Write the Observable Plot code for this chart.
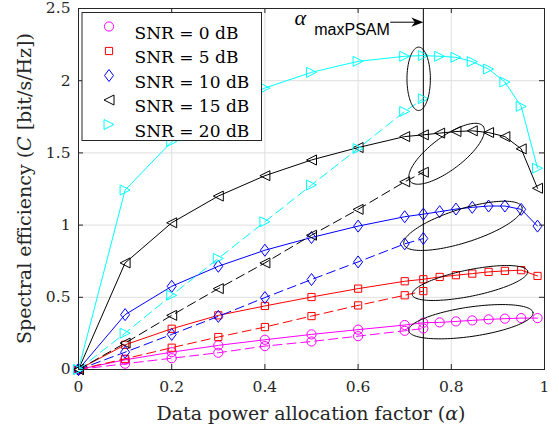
<!DOCTYPE html>
<html><head><meta charset="utf-8">
<script src="https://cdn.jsdelivr.net/npm/d3@7"></script>
<script src="https://cdn.jsdelivr.net/npm/@observablehq/plot@0.6"></script>
<style>body{margin:0;background:#fff}</style>
</head><body><div id="chart"></div>
<script>
// ---- data ----
const xLeft = [0, 0.1, 0.2, 0.3, 0.4, 0.5, 0.6, 0.7, 0.74];
const xRight = [0.775, 0.81, 0.845, 0.88, 0.915, 0.95, 0.985];
const snrLabels = ["SNR = 0 dB", "SNR = 5 dB", "SNR = 10 dB", "SNR = 15 dB", "SNR = 20 dB"];
const colors = ["#ff00ff", "#ff0000", "#0000ff", "#000000", "#00ffff"];
const solid0 = [0, 0.067, 0.12, 0.167, 0.206, 0.243, 0.276, 0.308, 0.324, 0.326, 0.333, 0.34, 0.347, 0.352, 0.356, 0.356];
const dashed0 = [0, 0.04, 0.078, 0.116, 0.162, 0.194, 0.231, 0.268, 0.284];
const solid5 = [0, 0.171, 0.282, 0.375, 0.44, 0.502, 0.56, 0.611, 0.625, 0.641, 0.653, 0.664, 0.676, 0.683, 0.688, 0.648];
const dashed5 = [0, 0.074, 0.151, 0.225, 0.294, 0.37, 0.444, 0.514, 0.543];
const solid10 = [0, 0.38, 0.576, 0.715, 0.826, 0.914, 0.993, 1.058, 1.076, 1.093, 1.111, 1.123, 1.132, 1.132, 1.109, 0.993];
const dashed10 = [0, 0.12, 0.243, 0.368, 0.498, 0.623, 0.745, 0.87, 0.907];
const solid15 = [0, 0.738, 1.016, 1.201, 1.342, 1.451, 1.537, 1.613, 1.625, 1.637, 1.648, 1.653, 1.641, 1.613, 1.528, 1.255];
const dashed15 = [0, 0.183, 0.375, 0.56, 0.738, 0.93, 1.109, 1.3, 1.366];
const solid20 = [0, 1.243, 1.578, 1.8, 1.949, 2.058, 2.134, 2.169, 2.174, 2.169, 2.162, 2.132, 2.081, 1.991, 1.822, 1.394];
const dashed20 = [0, 0.252, 0.514, 0.769, 1.023, 1.278, 1.53, 1.787, 1.875];
const xTicks = [0, 0.2, 0.4, 0.6, 0.8, 1];
const yTicks = [0, 0.5, 1, 1.5, 2, 2.5];
const alphaMax = 0.74;
const alphaLabel = {x: 0.477, y: 2.382, sub: "maxPSAM", subX: 0.506, subY: 2.318, arrowX1: 0.67, arrowY: 2.405};
// annotation ellipses: centre in data units, semi-axes in px, tilt in degrees
const ellipses = [
  {cx: 0.730, cy: 2.013, a: 11.7, b: 31.7, angle: 0},
  {cx: 0.790, cy: 1.494, a: 45.7, b: 16.4, angle: 37},
  {cx: 0.825, cy: 0.995, a: 61.9, b: 16.8, angle: 17.6},
  {cx: 0.840, cy: 0.599, a: 58.9, b: 13.2, angle: 11.5},
  {cx: 0.842, cy: 0.331, a: 62.8, b: 14.7, angle: 8.3}
];

// ---- layout ----
const W = 559, H = 431, mL = 78, mR = 15, mT = 8, mB = 62;
const kx = (W - mL - mR) / 1, ky = (H - mT - mB) / 2.5;
const serif = "DejaVu Serif";

const solids = [solid0, solid5, solid10, solid15, solid20];
const dasheds = [dashed0, dashed5, dashed10, dashed15, dashed20];
const xSolid = xLeft.concat(xRight);

// custom marker symbols
function sym(fn) { return {draw(c, size) { const k = Math.sqrt(size / Math.PI) / 4.5; fn(c, k); }}; }
const symbols = [
  sym((c, k) => { c.moveTo(4.6 * k, 0); c.arc(0, 0, 4.6 * k, 0, 2 * Math.PI); c.closePath(); }),
  sym((c, k) => { c.moveTo(-3.6 * k, -3.6 * k); c.lineTo(3.6 * k, -3.6 * k); c.lineTo(3.6 * k, 3.6 * k); c.lineTo(-3.6 * k, 3.6 * k); c.closePath(); }),
  sym((c, k) => { c.moveTo(0, -6 * k); c.lineTo(4.5 * k, 0); c.lineTo(0, 6 * k); c.lineTo(-4.5 * k, 0); c.closePath(); }),
  sym((c, k) => { c.moveTo(-5 * k, 0); c.lineTo(5 * k, -5 * k); c.lineTo(5 * k, 5 * k); c.closePath(); }),
  sym((c, k) => { c.moveTo(5 * k, 0); c.lineTo(-5 * k, -5 * k); c.lineTo(-5 * k, 5 * k); c.closePath(); })
];
const arrowHead = {draw(c) { c.moveTo(0, 0); c.lineTo(-12, -4.6); c.lineTo(-8.5, 0); c.lineTo(-12, 4.6); c.closePath(); }};

const marks = [
  Plot.gridX(xTicks, {stroke: "#dfdfdf", strokeOpacity: 1, strokeWidth: 1}),
  Plot.gridY(yTicks, {stroke: "#dfdfdf", strokeOpacity: 1, strokeWidth: 1}),
  Plot.ruleX([alphaMax], {stroke: "black", strokeWidth: 1})
];
solids.forEach((vals, i) => {
  const rows = vals.map((v, j) => ({x: xSolid[j], y: v}));
  const drows = dasheds[i].map((v, j) => ({x: xLeft[j], y: v}));
  marks.push(Plot.line(rows, {x: "x", y: "y", stroke: colors[i], strokeWidth: 1}));
  marks.push(Plot.line(drows, {x: "x", y: "y", stroke: colors[i], strokeWidth: 1, strokeDasharray: "9,5"}));
  marks.push(Plot.dot(rows, {x: "x", y: "y", symbol: symbols[i], r: 4.5, stroke: colors[i], strokeWidth: 1, fill: "none"}));
  marks.push(Plot.dot(drows, {x: "x", y: "y", symbol: symbols[i], r: 4.5, stroke: colors[i], strokeWidth: 1, fill: "none"}));
});
// ellipses
const ellRows = [];
ellipses.forEach((e, i) => {
  const th = e.angle * Math.PI / 180;
  for (let t = 0; t <= 120; t++) {
    const p = t / 120 * 2 * Math.PI;
    const px = e.a * Math.cos(p), py = e.b * Math.sin(p);
    ellRows.push({z: i, x: e.cx + (px * Math.cos(th) - py * Math.sin(th)) / kx, y: e.cy + (px * Math.sin(th) + py * Math.cos(th)) / ky});
  }
});
marks.push(Plot.line(ellRows, {x: "x", y: "y", z: "z", stroke: "black", strokeWidth: 1}));
// arrow annotation
marks.push(Plot.ruleY([alphaLabel.arrowY], {x1: alphaLabel.arrowX1, x2: alphaMax - 8 / kx, stroke: "black", strokeWidth: 1}));
marks.push(Plot.dot([0], {x: () => alphaMax, y: () => alphaLabel.arrowY, symbol: arrowHead, fill: "black", stroke: "none"}));
marks.push(Plot.text([alphaLabel.sub], {x: () => alphaLabel.subX, y: () => alphaLabel.subY, text: d => d, textAnchor: "start", lineAnchor: "bottom", fontFamily: "Liberation Sans", fontSize: 16, fill: "black"}));
// frame & inward ticks
const fw = W - mL - mR, fh = H - mT - mB;
marks.push(Plot.ruleX(xTicks, {insetTop: fh - 5, stroke: "#262626"}));
marks.push(Plot.ruleX(xTicks, {insetBottom: fh - 5, stroke: "#262626"}));
marks.push(Plot.ruleY(yTicks, {insetRight: fw - 5, stroke: "#262626"}));
marks.push(Plot.ruleY(yTicks, {insetLeft: fw - 5, stroke: "#262626"}));
marks.push(Plot.frame({stroke: "#262626", strokeWidth: 1}));
marks.push(Plot.axisX(xTicks, {tickSize: 0, tickPadding: 11, fontSize: 15.5, fontFamily: serif, fill: "#262626", tickFormat: d => String(d)}));
marks.push(Plot.axisY(yTicks, {tickSize: 0, tickPadding: 8, fontSize: 15.5, fontFamily: serif, fill: "#262626", tickFormat: d => String(d)}));
// legend
marks.push(Plot.frame({fill: "white", stroke: "#262626", strokeWidth: 1, insetLeft: 3.5, insetTop: 4, insetRight: fw - 183, insetBottom: fh - 132}));
snrLabels.forEach((lab, i) => {
  marks.push(Plot.dot([lab], {frameAnchor: "top-left", dx: 30.5, dy: 18 + i * 24.5, symbol: symbols[i], r: 4.5, stroke: colors[i], fill: "none", strokeWidth: 1}));
  marks.push(Plot.text([lab], {frameAnchor: "top-left", dx: 56, dy: 18 + i * 24.5, text: d => d, textAnchor: "start", fontFamily: serif, fontSize: 17, fill: "black"}));
});

const fig = Plot.plot({
  width: W, height: H, marginLeft: mL, marginRight: mR, marginTop: mT, marginBottom: mB,
  x: {domain: [0, 1], label: null, axis: null},
  y: {domain: [0, 2.5], label: null, axis: null},
  style: {fontFamily: serif, background: "white", overflow: "visible"},
  marks
});
const svg = d3.select(fig);
// axis titles with mixed styles
const xl = svg.append("text").attr("x", mL + fw / 2).attr("y", H - 11).attr("text-anchor", "middle")
  .attr("font-family", serif).attr("font-size", 19).attr("fill", "#262626");
xl.append("tspan").text("Data power allocation factor (");
xl.append("tspan").attr("font-style", "italic").text("α");
xl.append("tspan").text(")");
const yl = svg.append("text").attr("transform", `translate(31,${mT + fh / 2}) rotate(-90)`).attr("text-anchor", "middle")
  .attr("font-family", serif).attr("font-size", 19).attr("fill", "#262626");
yl.append("tspan").text("Spectral efficiency (");
yl.append("tspan").attr("font-style", "italic").text("C");
yl.append("tspan").text(" [bit/s/Hz])");
const sx = fig.scale("x"), sy = fig.scale("y");
svg.append("text").attr("x", sx.apply(alphaLabel.x)).attr("y", sy.apply(alphaLabel.y))
  .attr("font-family", "Liberation Serif").attr("font-style", "italic").attr("font-size", 22).attr("fill", "black").text("α");
document.getElementById("chart").appendChild(fig);
</script></body></html>
